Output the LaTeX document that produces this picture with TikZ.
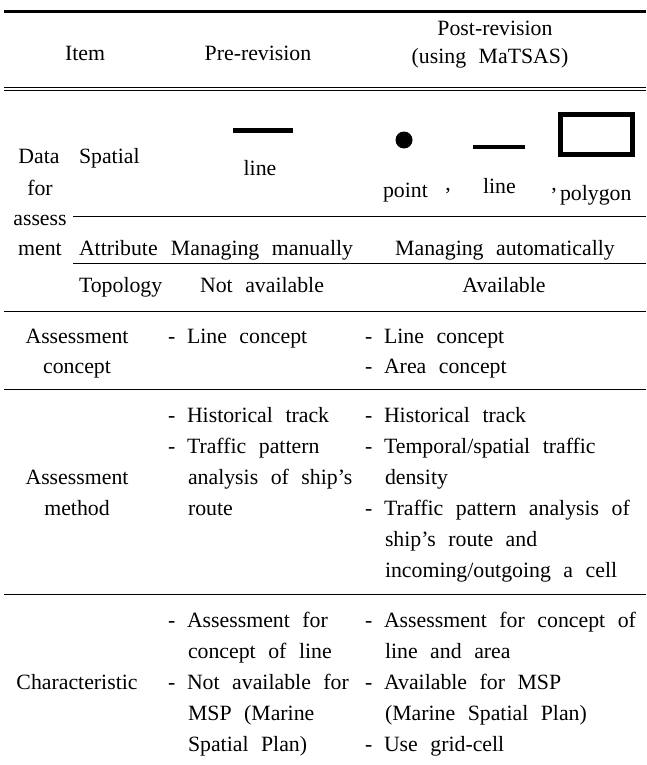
\documentclass[tikz,border=0pt]{standalone}
\usepackage{fontspec}
\setmainfont{Liberation Serif}[WordSpace=2.3]
\newcommand\tfont{\fontsize{21.8}{31}\selectfont}
\tikzset{
  T/.style={inner sep=0pt, outer sep=0pt, anchor=base west, font=\tfont},
  C/.style={inner sep=0pt, outer sep=0pt, anchor=base, font=\tfont},
  rulethin/.style={line width=1pt},
}
\begin{document}
\begin{tikzpicture}[x=1pt,y=-1pt]
\fill[white] (0,0) rectangle (646,765);
\useasboundingbox (0,0) rectangle (646,765);
% rules
\draw[line width=3pt] (4,11.5) -- (646,11.5);
\draw[rulethin] (4,88) -- (646,88);
\draw[rulethin] (4,91) -- (646,91);
\draw[rulethin] (73,216) -- (646,216);
\draw[rulethin] (73,263) -- (646,263);
\draw[rulethin] (4,311) -- (646,311);
\draw[rulethin] (4,389) -- (646,389);
\draw[rulethin] (4,594) -- (646,594);
% header
\node[C] (hItem) at (85,61) {Item};
\node[C] (hPre) at (258,61) {Pre-revision};
\node[C] (hPost1) at (495,36) {Post-revision};
\node[C] (hPost2) at (490,64) {(using MaTSAS)};
% data for assessment
\node[C] (dData) at (39,163) {Data};
\node[C] (dFor) at (40,195) {for};
\node[C] (dAssess) at (40,225) {assess};
\node[C] (dMent) at (40,255) {ment};
\node[T] (sSpatial) at (79,163) {Spatial};
\node[T] (sAttr) at (79,255) {Attribute};
\node[T] (sTopo) at (79,292) {Topology};
% spatial graphics
\draw[line width=4.5pt] (233,130.5) -- (293,130.5);
\node[C] (preLine) at (260,175) {line};
\fill (404,140) circle (8.5);
\draw[line width=3.5pt] (473,147) -- (525,147);
\draw[line width=5pt] (560.5,114.5) rectangle (632.5,154.5);
\node[T] (pPoint) at (383,197) {point};
\node[C] (pComma1) at (448,190) {,};
\node[T] (pLine) at (483,193) {line};
\node[C] (pComma2) at (554,190) {,};
\node[T] (pPoly) at (560,200) {polygon};
\node[C] (aPre) at (262,255) {Managing manually};
\node[C] (aPost) at (505,255) {Managing automatically};
\node[C] (tPre) at (262,292) {Not available};
\node[C] (tPost) at (504,292) {Available};
% assessment concept
\node[C] (cA) at (77,343) {Assessment};
\node[C] (cB) at (77,373) {concept};
\node[T] (cPreD) at (168,343) {-};
\node[T] (cPre) at (187,343) {Line concept};
\node[T] (cPostD1) at (365,343) {-};
\node[T] (cPost1) at (384,343) {Line concept};
\node[T] (cPostD2) at (365,373) {-};
\node[T] (cPost2) at (384,373) {Area concept};
% assessment method
\node[C] (mA) at (77,484) {Assessment};
\node[C] (mB) at (77,515) {method};
\node[T] (mPreD1) at (168,422) {-};
\node[T] (mPre1) at (187,422) {Historical track};
\node[T] (mPreD2) at (168,453) {-};
\node[T] (mPre2) at (187,453) {Traffic pattern};
\node[T] (mPre3) at (188,484) {analysis of ship’s};
\node[T] (mPre4) at (188,515) {route};
\node[T] (mPostD1) at (365,422) {-};
\node[T] (mPost1) at (384,422) {Historical track};
\node[T] (mPostD2) at (365,453) {-};
\node[T] (mPost2) at (384,453) {Temporal/spatial traffic};
\node[T] (mPost3) at (385,484) {density};
\node[T] (mPostD4) at (365,515) {-};
\node[T] (mPost4) at (384,515) {Traffic pattern analysis of};
\node[T] (mPost5) at (385,546) {ship’s route and};
\node[T] (mPost6) at (385,577) {incoming/outgoing a cell};
% characteristic
\node[C] (chA) at (77,689) {Characteristic};
\node[T] (chPreD1) at (168,627) {-};
\node[T] (chPre1) at (187,627) {Assessment for};
\node[T] (chPre2) at (188,658) {concept of line};
\node[T] (chPreD3) at (168,689) {-};
\node[T] (chPre3) at (187,689) {Not available for};
\node[T] (chPre4) at (188,720) {MSP (Marine};
\node[T] (chPre5) at (188,751) {Spatial Plan)};
\node[T] (chPostD1) at (365,627) {-};
\node[T] (chPost1) at (384,627) {Assessment for concept of};
\node[T] (chPost2) at (385,658) {line and area};
\node[T] (chPostD3) at (365,689) {-};
\node[T] (chPost3) at (384,689) {Available for MSP};
\node[T] (chPost4) at (385,720) {(Marine Spatial Plan)};
\node[T] (chPostD5) at (365,751) {-};
\node[T] (chPost5) at (384,751) {Use grid-cell};
\end{tikzpicture}
\end{document}
